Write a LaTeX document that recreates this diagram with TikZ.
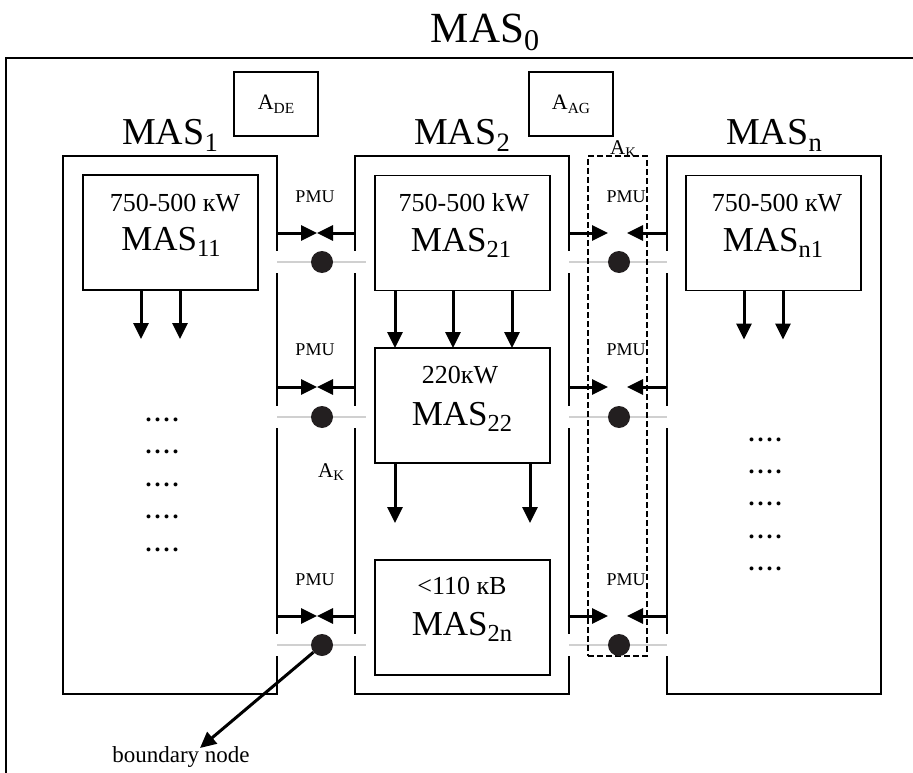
\documentclass[tikz,border=0pt]{standalone}
\usepackage{fontspec}
\setmainfont{Liberation Serif}
\usetikzlibrary{positioning,arrows.meta,calc}
\definecolor{dotc}{HTML}{231F20}
\definecolor{tiec}{HTML}{D0D0D0}
\newcommand{\lo}[1]{\raisebox{-0.18em}{\scalebox{0.7}{#1}}}
\newcommand{\fs}[1]{\fontsize{#1}{#1}\selectfont}
\newcommand{\fourdots}{.\kern3pt.\kern3pt.\kern3pt.}

\begin{document}
\begin{tikzpicture}[x=1pt,y=-1pt,
  box/.style={draw, line width=1.5pt, inner sep=0pt, outer sep=0pt, minimum width=214pt, minimum height=538pt},
  inbox/.style={draw, line width=1.8pt, inner sep=0pt, outer sep=0pt, minimum width=175pt, minimum height=115pt},
  agbox/.style={draw, line width=1.5pt, inner sep=0pt, minimum width=84pt, minimum height=64pt},
  txt/.style={anchor=base, inner sep=0pt},
  arr/.style={line width=3pt, -{Triangle[length=16pt,width=15pt]}},
  band/.style={white, line width=22pt},
  tie/.style={tiec, line width=2pt},
  dot/.style={circle, fill=dotc, inner sep=0pt, minimum size=22pt},
  akbox/.style={draw, line width=1.8pt, dash pattern=on 6pt off 3pt, inner sep=0pt, minimum width=59pt, minimum height=500pt}]

  \useasboundingbox (0,0) rectangle (913,773);

  \node[txt] (mas0) at (485,43) {\fs{43}MAS\lo{0}};
  \coordinate (fr) at (913,58);
  \coordinate (fl) at (6,58);
  \coordinate (fb) at (6,773);
  \draw[line width=1.2pt] (fr) -- (fl) -- (fb);

  \node[agbox] (ade) at (276,104) {\fs{22}A\lo{DE}};
  \node[agbox] (aag) at (571,104) {\fs{22}A\lo{AG}};

  \node[box] (mas1) at (170,425) {};
  \node[box] (mas2) at (462,425) {};
  \node[box] (masn) at (774,425) {};
  \node[txt] (l1) at (170,145) {\fs{38}MAS\lo{1}};
  \node[txt] (l2) at (462,145) {\fs{38}MAS\lo{2}};
  \node[txt] (ln) at (774,145) {\fs{38}MAS\lo{n}};

  \node[inbox] (mas11) at (170.5,232.5) {};
  \node[inbox] (mas21) at (462.5,233) {};
  \node[inbox] (masn1) at (773.5,233) {};
  \node[inbox] (mas22) at (462.5,405.5) {};
  \node[inbox] (mas2n) at (462.5,617.5) {};

  \node[txt] (p11) at (175,211) {\fs{26}750-500 кW};
  \node[txt] (m11) at (171,250) {\fs{35}MAS\lo{11}};
  \node[txt] (p21) at (464,211) {\fs{26}750-500 kW};
  \node[txt] (m21) at (461,251) {\fs{35}MAS\lo{21}};
  \node[txt] (pn1) at (777,211) {\fs{26}750-500 кW};
  \node[txt] (mn1) at (773,251) {\fs{35}MAS\lo{n1}};
  \node[txt] (p22) at (460,383) {\fs{26}220кW};
  \node[txt] (m22) at (462,425) {\fs{35}MAS\lo{22}};
  \node[txt] (p2n) at (462,594) {\fs{26}<110 кВ};
  \node[txt] (m2n) at (462,635) {\fs{35}MAS\lo{2n}};

  \foreach \dx in {-29.5,9.5} {
    \draw[arr] ([xshift=\dx pt]mas11.south) -- ++(0,49);
    \draw[arr] ([xshift=\dx pt]masn1.south) -- ++(0,49);
  }
  \foreach \dx in {-67.5,-9.5,49.5}
    \draw[arr] ([xshift=\dx pt]mas21.south) -- ([xshift=\dx pt]mas22.north);
  \foreach \dx in {-67.5,67.5}
    \draw[arr] ([xshift=\dx pt]mas22.south) -- ++(0,60);

  \foreach \y [count=\i] in {233,387,616} {
    \coordinate (tl\i) at (317,\y);
    \coordinate (tr\i) at (608,\y);
    \coordinate (ts\i) at (627,\y);
    \draw[arr] (mas1.east |- tl\i) -- (tl\i);
    \draw[arr] (mas2.west |- tl\i) -- (tl\i);
    \draw[arr] (mas2.east |- tr\i) -- (tr\i);
    \draw[arr] (masn.west |- ts\i) -- (ts\i);
  }

  \foreach \y [count=\i] in {262,417,645} {
    \coordinate (g\i) at (0,\y);
    \draw[band] ([xshift=-1.5pt]mas1.east |- g\i) -- ([xshift=12pt]mas2.west |- g\i);
    \draw[band] ([xshift=-1.5pt]mas2.east |- g\i) -- ([xshift=1.5pt]masn.west |- g\i);
    \draw[tie] (mas1.east |- g\i) -- ([xshift=11pt]mas2.west |- g\i);
    \draw[tie] (mas2.east |- g\i) -- (masn.west |- g\i);
  }

  \node[akbox] (ak) at (617.5,406) {};

  \foreach \y [count=\i] in {262,417,645} {
    \node[dot] (dotl\i) at (322,\y) {};
    \node[dot] (dotr\i) at (619,\y) {};
  }

  \foreach \y [count=\i] in {202,355,585} {
    \node[txt] (pmul\i) at (315,\y) {\fs{18}PMU};
    \node[txt] (pmur\i) at (626,\y) {\fs{18}PMU};
  }

  \node[txt] (ak1) at (623,154) {\fs{21}A\lo{K}};
  \node[txt] (ak2) at (331,477) {\fs{21}A\lo{K}};

  \foreach \i in {0,...,4} {
    \node[txt] (rowa\i) at (162,{421+32.5*\i}) {\fs{24}\bfseries\fourdots};
    \node[txt] (rowb\i) at (765,{441+32.4*\i}) {\fs{24}\bfseries\fourdots};
  }

  \node[txt] (bnode) at (181,762) {\fs{23}boundary node};
  \coordinate (btip) at (200,748);
  \draw[arr] (dotl3) -- (btip);

\end{tikzpicture}
\end{document}
